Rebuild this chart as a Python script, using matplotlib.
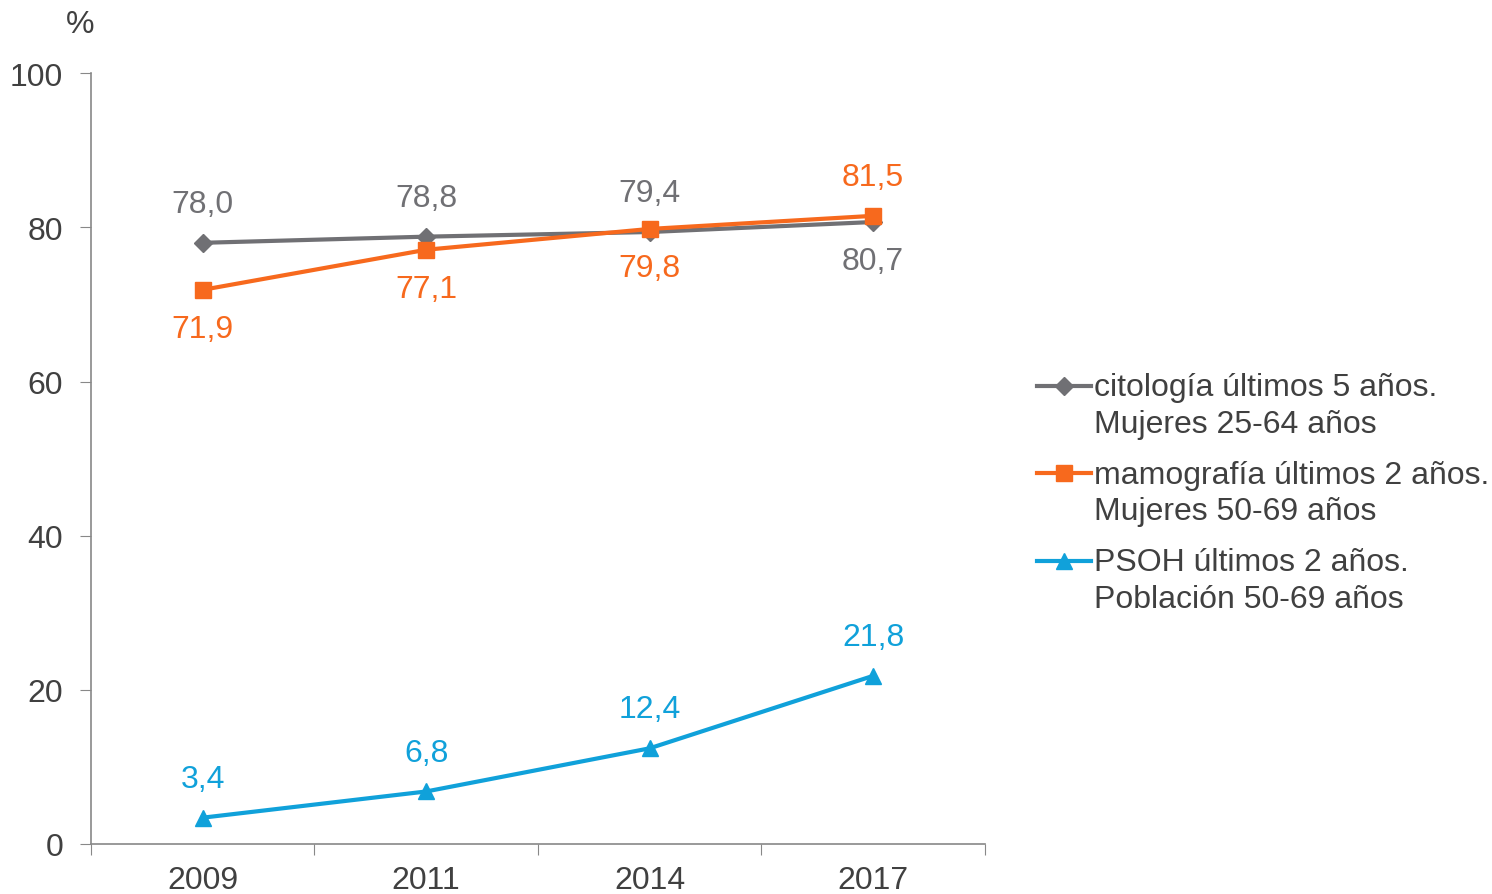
import matplotlib

matplotlib.use("Agg")

import matplotlib.pyplot as plt
from matplotlib.legend_handler import HandlerLine2D

years = ["2009", "2011", "2014", "2017"]
citologia = [78.0, 78.8, 79.4, 80.7]
mamografia = [71.9, 77.1, 79.8, 81.5]
psoh = [3.4, 6.8, 12.4, 21.8]

labels = [
    "citología últimos 5 años.\nMujeres 25-64 años",
    "mamografía últimos 2 años.\nMujeres 50-69 años",
    "PSOH últimos 2 años.\nPoblación 50-69 años",
]

GRAY = "#707074"
ORANGE = "#F7691D"
BLUE = "#10A1DA"
TEXT = "#404040"
FS = 23

plt.rcParams["font.family"] = ["Liberation Sans", "DejaVu Sans"]


class FirstLineHandler(HandlerLine2D):
    # put the legend marker at the height of the first text line
    def create_artists(self, legend, orig_handle, xdescent, ydescent, width,
                       height, fontsize, trans):
        return super().create_artists(legend, orig_handle, xdescent,
                                      ydescent - 1.25 * fontsize, width, height,
                                      fontsize, trans)


fig = plt.figure(figsize=(14.92, 8.95), dpi=100)
ax = fig.add_axes([0.061, 0.056, 0.599, 0.861])

x = range(len(years))
ax.plot(x, citologia, color=GRAY, lw=3, marker="D", ms=9, label=labels[0])
ax.plot(x, mamografia, color=ORANGE, lw=3, marker="s", ms=12, label=labels[1])
ax.plot(x, psoh, color=BLUE, lw=3, marker="^", ms=12, label=labels[2])


def fmt(v):
    return f"{v:.1f}".replace(".", ",")


# label placement: above (+) or below (-) the point
cit_pos = [1, 1, 1, -1]
mam_pos = [-1, -1, -1, 1]
for series, pos, col in [(citologia, cit_pos, GRAY), (mamografia, mam_pos, ORANGE),
                         (psoh, [1, 1, 1, 1], BLUE)]:
    for i, (v, p) in enumerate(zip(series, pos)):
        ax.annotate(fmt(v), (i, v), xytext=(0, 28 * p), textcoords="offset points",
                    ha="center", va="center", fontsize=FS, color=col)

ax.set_xlim(-0.5, 3.5)
ax.set_ylim(0, 100)
ax.set_yticks([0, 20, 40, 60, 80, 100])
ax.set_xticks([-0.5, 0.5, 1.5, 2.5, 3.5])
ax.set_xticklabels([])
ax.set_xticks(list(x), minor=True)
ax.set_xticklabels(years, minor=True)
ax.tick_params(axis="x", which="minor", length=0, pad=15, labelsize=FS, labelcolor=TEXT)
ax.tick_params(axis="x", which="major", length=8, color="#888888", direction="out")
ax.tick_params(axis="y", length=8, color="#888888", labelsize=FS, labelcolor=TEXT, pad=12)

for s in ["top", "right"]:
    ax.spines[s].set_visible(False)
for s in ["left", "bottom"]:
    ax.spines[s].set_color("#888888")
    ax.spines[s].set_linewidth(1.2)

fig.text(0.054, 0.972, "%", fontsize=FS, color=TEXT, ha="center", va="center")

handles = ax.get_lines()
leg = fig.legend(handles, labels, loc="center left", bbox_to_anchor=(0.684, 0.448),
                 frameon=False, fontsize=FS, labelcolor=TEXT, handlelength=1.7,
                 handletextpad=0.1, labelspacing=0.64, borderpad=0,
                 handler_map={h: FirstLineHandler() for h in handles})
for t in leg.get_texts():
    t.set_linespacing(1.3)

fig.savefig("out.png", dpi=100)
